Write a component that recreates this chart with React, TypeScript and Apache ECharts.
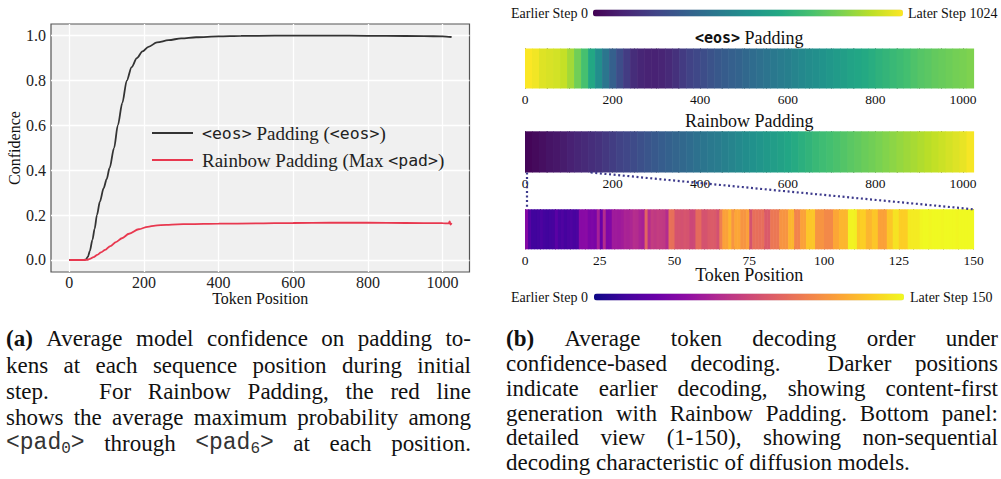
import React, { useEffect, useRef } from 'react';
import * as echarts from 'echarts';

const W = 1001;
const H = 479;
const SERIF = 'Liberation Serif';
const MONO = 'DejaVu Sans Mono';
const CAP_MONO = 'Liberation Mono';

// ---------- (a) line chart data ----------
const EOS_NAME = '<eos> Padding (<eos>)';
const RB_NAME = 'Rainbow Padding (Max <pad>)';
const eosPos = [0, 40, 45, 50, 55, 62, 68, 74, 82, 92, 100, 108, 120, 130, 142, 154, 167, 181, 196, 212, 235, 266, 300, 340, 400, 460, 550, 650, 750, 850, 950, 1000, 1024];
const eosConf = [0, 0, 0.003, 0.015, 0.04, 0.09, 0.14, 0.2, 0.26, 0.32, 0.36, 0.41, 0.5, 0.6, 0.7, 0.8, 0.86, 0.9, 0.93, 0.95, 0.97, 0.98, 0.988, 0.993, 0.997, 0.999, 1.0, 1.0, 1.0, 0.999, 0.998, 0.997, 0.994];
const rbPos = [0, 40, 48, 55, 65, 75, 85, 96, 110, 125, 141, 160, 186, 210, 230, 260, 290, 320, 400, 500, 600, 700, 800, 900, 1000, 1016, 1019, 1021, 1024];
const rbConf = [0, 0, 0.001, 0.005, 0.013, 0.023, 0.034, 0.045, 0.062, 0.08, 0.097, 0.117, 0.137, 0.148, 0.153, 0.157, 0.159, 0.16, 0.162, 0.163, 0.165, 0.166, 0.166, 0.165, 0.164, 0.163, 0.172, 0.158, 0.165];
const leftXTicks = [0, 200, 400, 600, 800, 1000];
const leftYTicks = [0, 0.2, 0.4, 0.6, 0.8, 1.0];

// ---------- (b) decoding-order data ----------
const FULL_LEN = 1024;
const BIN = 16;
const eosSteps = [
  1020, 1005, 975, 965, 955, 935, 880, 800, 720, 610, 500, 400, 310, 240, 180, 130,
  110, 100, 98, 105, 120, 145, 175, 200, 220, 240, 260, 280, 295, 310, 325, 345,
  360, 375, 395, 410, 425, 440, 460, 475, 490, 505, 520, 540, 555, 570, 590, 605,
  620, 635, 655, 670, 685, 700, 715, 735, 750, 760, 775, 785, 795, 805, 815, 825,
];
const rainbowSteps = [
  12, 25, 40, 55, 65, 78, 95, 110, 122, 135, 148, 165, 183, 200, 216, 232,
  250, 268, 285, 300, 316, 330, 345, 362, 380, 396, 412, 426, 443, 460, 478, 496,
  514, 531, 548, 566, 585, 605, 625, 645, 664, 684, 702, 716, 730, 745, 760, 774,
  788, 803, 817, 832, 846, 860, 874, 888, 902, 916, 930, 944, 958, 972, 990, 1012,
];
const DETAIL_LEN = 150;
const detailSteps = [
  40, 22, 15, 15, 16, 19, 16, 15, 16, 17, 24, 18, 20, 17, 19, 20, 18, 19, 42, 42,
  43, 37, 38, 36, 55, 30, 61, 38, 39, 52, 52, 51, 53, 57, 56, 58, 62, 61, 57, 55,
  90, 62, 70, 68, 70, 69, 68, 61, 96, 95, 81, 81, 80, 82, 81, 75, 76, 93, 93, 81,
  81, 85, 86, 85, 80, 102, 118, 118, 126, 112, 120, 120, 112, 112, 118, 81, 95, 95, 94, 95,
  85, 85, 99, 99, 99, 112, 112, 112, 126, 126, 105, 105, 118, 118, 132, 132, 132, 112, 112, 112,
  107, 107, 107, 120, 120, 126, 126, 126, 148, 148, 147, 132, 135, 135, 126, 126, 132, 132, 118, 118,
  118, 132, 132, 142, 142, 135, 135, 135, 145, 145, 145, 145, 149, 150, 150, 149, 150, 150, 150, 149,
  150, 150, 150, 150, 149, 150, 150, 150, 150, 150,
];
const fullTickLabels = [0, 200, 400, 600, 800, 1000];
const fullTickMarks = [0, 50, 100, 150, 200, 250, 300, 350, 400, 450, 500, 550, 600, 650, 700, 750, 800, 850, 900, 950, 1000];
const detailTickLabels = [0, 25, 50, 75, 100, 125, 150];

const VIRIDIS = ['#440154', '#482475', '#414487', '#355f8d', '#2a788e', '#21918c', '#22a884', '#44bf70', '#7ad151', '#bddf26', '#fde725'];
const PLASMA = ['#0d0887', '#41049d', '#6a00a8', '#8f0da4', '#b12a90', '#cc4778', '#e16462', '#f2844b', '#fca636', '#fcce25', '#f0f921'];

// ---------- captions ----------
const CAP_SIZE = 23;
const captionA = {
  x0: 6, x1: 471,
  lines: [
    { y: 338.3, text: '(a) Average model confidence on padding to-', justify: true },
    { y: 365, text: 'kens at each sequence position during initial', justify: true },
    { y: 391, text: 'step.   For Rainbow Padding, the red line', justify: true },
    { y: 417.7, text: 'shows the average maximum probability among', justify: true },
    { y: 443.3, text: '<pad0> through <pad6> at each position.', justify: true },
  ],
};
const captionB = {
  x0: 506, x1: 998,
  lines: [
    { y: 338.3, text: '(b) Average token decoding order under', justify: true },
    { y: 363.3, text: 'confidence-based decoding.  Darker positions', justify: true },
    { y: 388.3, text: 'indicate earlier decoding, showing content-first', justify: true },
    { y: 413.3, text: 'generation with Rainbow Padding. Bottom panel:', justify: true },
    { y: 437.7, text: 'detailed view (1-150), showing non-sequential', justify: true },
    { y: 462.3, text: 'decoding characteristic of diffusion models.', justify: false },
  ],
};

type Run = { t: string; k: 'r' | 'b' | 'm' | 's' };
const SPECIAL: Record<string, Run[]> = {
  '(a)': [{ t: '(a)', k: 'b' }],
  '(b)': [{ t: '(b)', k: 'b' }],
  '<pad0>': [{ t: '<pad', k: 'm' }, { t: '0', k: 's' }, { t: '>', k: 'm' }],
  '<pad6>': [{ t: '<pad', k: 'm' }, { t: '6', k: 's' }, { t: '>', k: 'm' }],
};

function fontOf(k: string, size: number) {
  if (k === 'b') return `bold ${size}px "${SERIF}"`;
  if (k === 'm') return `${size}px "${CAP_MONO}"`;
  if (k === 's') return `${Math.round(size * 0.68)}px "${CAP_MONO}"`;
  return `${size}px "${SERIF}"`;
}

function captionGraphics(cap: any, size: number, ctx: CanvasRenderingContext2D) {
  const els: any[] = [];
  for (const line of cap.lines) {
    const toks: string[] = line.text.split(' ');
    const words: Run[][] = [];
    const weights: number[] = [];
    let pending = 0;
    for (const tk of toks) {
      if (tk === '') {
        pending += 1;
        continue;
      }
      if (words.length) weights.push(1 + pending);
      pending = 0;
      words.push(SPECIAL[tk] || [{ t: tk, k: 'r' }]);
    }
    const measure = (r: Run) => {
      ctx.font = fontOf(r.k, size);
      return ctx.measureText(r.t).width;
    };
    const widths = words.map((runs) => runs.reduce((s, r) => s + measure(r), 0));
    const total = widths.reduce((a, b) => a + b, 0);
    ctx.font = fontOf('r', size);
    const sp = ctx.measureText(' ').width;
    const wsum = weights.reduce((a, b) => a + b, 0);
    const unit = line.justify && wsum > 0 ? (cap.x1 - cap.x0 - total) / wsum : sp;
    let x = cap.x0;
    words.forEach((runs, i) => {
      for (const r of runs) {
        const w = measure(r);
        els.push({
          type: 'text',
          x,
          y: line.y + (r.k === 's' ? size * 0.24 : 0),
          silent: true,
          style: {
            text: r.t,
            font: fontOf(r.k, size),
            fill: r.k === 'm' || r.k === 's' ? '#333' : '#111',
            align: 'left',
            verticalAlign: 'middle',
          },
        });
        x += w;
      }
      if (i < weights.length) x += unit * weights[i];
    });
  }
  return els;
}

const heatRender = (params: any, api: any) => {
  const p0 = api.coord([api.value(0), 1]);
  const p1 = api.coord([api.value(1), 0]);
  return {
    type: 'rect',
    shape: { x: p0[0], y: p0[1], width: p1[0] - p0[0] + 0.6, height: p1[1] - p0[1] },
    style: { fill: api.visual('color') },
  };
};

const plain = (v: number) => String(v);

function buildOption() {
  const eosData = eosPos.map((p, i) => [p, eosConf[i]]);
  const rbData = rbPos.map((p, i) => [p, rbConf[i]]);
  const eosCells = eosSteps.map((s, i) => [i * BIN, Math.min((i + 1) * BIN, FULL_LEN), s]);
  const rbCells = rainbowSteps.map((s, i) => [i * BIN, Math.min((i + 1) * BIN, FULL_LEN), s]);
  const detailCells = detailSteps.map((s, i) => [i, i + 1, s]);

  const rightLabel = { fontFamily: SERIF, fontSize: 13.5, color: '#111', margin: 4, formatter: plain };
  const tickStyle = { color: '#333', width: 1 };
  const fullBottomAxis = (grid: number) => ({
    type: 'value', gridIndex: grid, position: 'bottom', min: 0, max: FULL_LEN,
    axisLine: { show: false },
    axisTick: { show: true, inside: true, length: 3, customValues: fullTickMarks, lineStyle: tickStyle },
    axisLabel: { ...rightLabel, customValues: fullTickLabels },
    splitLine: { show: false },
  });
  const fullTopAxis = (grid: number) => ({
    type: 'value', gridIndex: grid, position: 'top', min: 0, max: FULL_LEN,
    axisLine: { show: false },
    axisTick: { show: true, inside: true, length: 3, customValues: fullTickMarks, lineStyle: tickStyle },
    axisLabel: { show: false },
    splitLine: { show: false },
  });
  const hiddenY = (grid: number) => ({ type: 'value', gridIndex: grid, min: 0, max: 1, show: false });

  return {
    animation: false,
    backgroundColor: '#ffffff',
    grid: [
      { left: 51, top: 24, width: 418.5, height: 248, show: true, backgroundColor: '#f0f0f0', borderColor: '#555', borderWidth: 1.2 },
      { left: 525, top: 48.5, width: 448.5, height: 40 },
      { left: 525, top: 131.3, width: 448.5, height: 41.2 },
      { left: 525, top: 209.3, width: 448.5, height: 40 },
    ],
    xAxis: [
      {
        type: 'value', gridIndex: 0, min: -49, max: 1072,
        axisLine: { show: false },
        axisTick: { show: false, customValues: leftXTicks },
        axisLabel: { customValues: leftXTicks, formatter: plain, fontFamily: SERIF, fontSize: 16, color: '#222', margin: 2 },
        splitLine: { show: true, lineStyle: { color: '#ffffff', width: 1.3 } },
        name: 'Token Position', nameLocation: 'middle', nameGap: 18, nameMoveOverlap: false,
        nameTextStyle: { fontFamily: SERIF, fontSize: 16, color: '#111' },
      },
      fullBottomAxis(1),
      fullTopAxis(1),
      fullBottomAxis(2),
      fullTopAxis(2),
      {
        type: 'value', gridIndex: 3, position: 'bottom', min: 0, max: DETAIL_LEN, interval: 25,
        axisLine: { show: false },
        axisTick: { show: true, inside: true, length: 3, lineStyle: tickStyle },
        minorTick: { show: true, splitNumber: 5, length: 3, lineStyle: tickStyle },
        axisLabel: { ...rightLabel, customValues: detailTickLabels },
        splitLine: { show: false },
        name: 'Token Position', nameLocation: 'middle', nameGap: 16.5, nameMoveOverlap: false,
        nameTextStyle: { fontFamily: SERIF, fontSize: 18, color: '#111' },
      },
      {
        type: 'value', gridIndex: 3, position: 'top', min: 0, max: DETAIL_LEN, interval: 25,
        axisLine: { show: false },
        axisTick: { show: true, inside: true, length: 3, lineStyle: tickStyle },
        minorTick: { show: true, splitNumber: 5, length: 3, lineStyle: tickStyle },
        axisLabel: { show: false },
        splitLine: { show: false },
      },
    ],
    yAxis: [
      {
        type: 'value', gridIndex: 0, min: -0.0535, max: 1.052,
        axisLine: { show: false },
        axisTick: { show: false, customValues: leftYTicks },
        axisLabel: { customValues: leftYTicks, formatter: (v: number) => v.toFixed(1), fontFamily: SERIF, fontSize: 16, color: '#222', margin: 5 },
        splitLine: { show: true, lineStyle: { color: '#ffffff', width: 1.3 } },
        name: 'Confidence', nameLocation: 'middle', nameGap: 29,
        nameTextStyle: { fontFamily: SERIF, fontSize: 16, color: '#111' },
      },
      hiddenY(1),
      hiddenY(2),
      hiddenY(3),
    ],
    legend: {
      show: true,
      orient: 'vertical',
      left: 152, top: 122, padding: 0,
      itemWidth: 41, itemHeight: 2, itemGap: 5,
      icon: 'rect',
      data: [EOS_NAME, RB_NAME],
      formatter: (name: string) =>
        name === EOS_NAME ? '{m|<eos>}{s| Padding (}{m|<eos>}{s|)}' : '{s|Rainbow Padding (Max }{m|<pad>}{s|)}',
      textStyle: {
        padding: [0, 0, 0, 4],
        lineHeight: 22,
        rich: {
          s: { fontFamily: SERIF, fontSize: 19, color: '#222', lineHeight: 22 },
          m: { fontFamily: MONO, fontSize: 16.5, color: '#222', lineHeight: 22 },
        },
      },
    },
    visualMap: [
      {
        type: 'continuous', seriesIndex: [2, 3], dimension: 2, min: 0, max: FULL_LEN,
        inRange: { color: VIRIDIS }, orient: 'horizontal', calculable: false, hoverLink: false,
        itemWidth: 7, itemHeight: 310, text: ['Later Step 1024', 'Earlier Step 0'], textGap: 5,
        left: 511, top: 6, padding: 0,
        textStyle: { fontFamily: SERIF, fontSize: 14, color: '#111' },
      },
      {
        type: 'continuous', seriesIndex: [4], dimension: 2, min: 0, max: DETAIL_LEN,
        inRange: { color: PLASMA }, orient: 'horizontal', calculable: false, hoverLink: false,
        itemWidth: 7, itemHeight: 310, text: ['Later Step 150', 'Earlier Step 0'], textGap: 6,
        left: 511, top: 290, padding: 0,
        textStyle: { fontFamily: SERIF, fontSize: 14, color: '#111' },
      },
    ],
    series: [
      {
        type: 'line', name: EOS_NAME, xAxisIndex: 0, yAxisIndex: 0, data: eosData,
        showSymbol: false, symbol: 'none', smooth: 0.3, smoothMonotone: 'x',
        lineStyle: { color: '#333333', width: 1.8 }, itemStyle: { color: '#333333' },
      },
      {
        type: 'line', name: RB_NAME, xAxisIndex: 0, yAxisIndex: 0, data: rbData,
        showSymbol: false, symbol: 'none', smooth: 0.3, smoothMonotone: 'x',
        lineStyle: { color: '#e8384f', width: 1.8 }, itemStyle: { color: '#e8384f' },
      },
      {
        type: 'custom', name: 'eos-order', xAxisIndex: 1, yAxisIndex: 1, data: eosCells,
        encode: { x: [0, 1] }, renderItem: heatRender, silent: true,
      },
      {
        type: 'custom', name: 'rainbow-order', xAxisIndex: 3, yAxisIndex: 2, data: rbCells,
        encode: { x: [0, 1] }, renderItem: heatRender, silent: true,
      },
      {
        type: 'custom', name: 'detail-order', xAxisIndex: 5, yAxisIndex: 3, data: detailCells,
        encode: { x: [0, 1] }, renderItem: heatRender, silent: true,
      },
    ],
  };
}

export default function App() {
  const ref = useRef<HTMLDivElement>(null);
  useEffect(() => {
    const chart = echarts.init(ref.current!, null, { renderer: 'svg' });
    chart.setOption(buildOption() as any);

    const canvas = document.createElement('canvas');
    const ctx = canvas.getContext('2d')!;
    const graphics: any[] = [];

    const t1 = chart.convertToPixel({ xAxisIndex: 1, yAxisIndex: 1 }, [FULL_LEN / 2, 1]) as number[];
    const t2 = chart.convertToPixel({ xAxisIndex: 3, yAxisIndex: 2 }, [FULL_LEN / 2, 1]) as number[];
    graphics.push({
      type: 'text', x: t1[0], y: t1[1] - 11, silent: true,
      style: {
        text: '{m|<eos>}{s| Padding}', align: 'center', verticalAlign: 'middle',
        rich: {
          m: { fontFamily: MONO, fontSize: 15, fill: '#111', fontWeight: 'bold' },
          s: { fontFamily: SERIF, fontSize: 18, fill: '#111' },
        },
      },
    });
    graphics.push({
      type: 'text', x: t2[0], y: t2[1] - 10, silent: true,
      style: { text: 'Rainbow Padding', align: 'center', verticalAlign: 'middle', fontFamily: SERIF, fontSize: 18, fill: '#111' },
    });

    const bl = chart.convertToPixel({ xAxisIndex: 3, yAxisIndex: 2 }, [0, 0]) as number[];
    const br = chart.convertToPixel({ xAxisIndex: 3, yAxisIndex: 2 }, [DETAIL_LEN, 0]) as number[];
    const tl = chart.convertToPixel({ xAxisIndex: 5, yAxisIndex: 3 }, [0, 1]) as number[];
    const tr = chart.convertToPixel({ xAxisIndex: 5, yAxisIndex: 3 }, [DETAIL_LEN, 1]) as number[];
    const dot = { stroke: '#3d3a8c', lineWidth: 2.2, lineDash: [2, 2.6] };
    graphics.push({ type: 'line', silent: true, shape: { x1: bl[0] + 2, y1: bl[1], x2: tl[0] + 2, y2: tl[1] }, style: dot, z: 10 });
    graphics.push({ type: 'line', silent: true, shape: { x1: br[0], y1: br[1], x2: tr[0], y2: tr[1] }, style: dot, z: 10 });

    graphics.push(...captionGraphics(captionA, CAP_SIZE, ctx));
    graphics.push(...captionGraphics(captionB, CAP_SIZE, ctx));

    chart.setOption({ graphic: graphics } as any);
    return () => chart.dispose();
  }, []);
  return (
    <div
      ref={ref}
      style={{ position: 'fixed', left: 0, top: 0, width: W, height: H, background: '#ffffff' }}
    />
  );
}
